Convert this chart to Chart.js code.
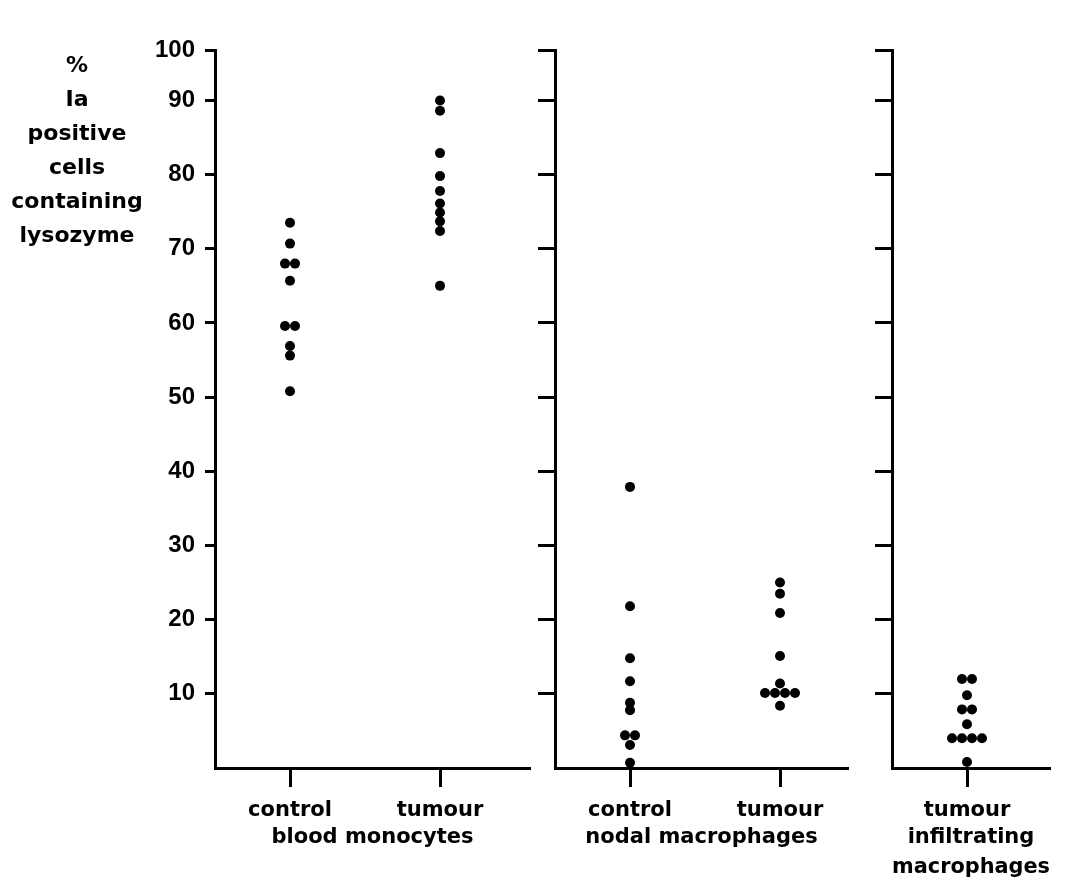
<!DOCTYPE html>
<html>
<head>
<meta charset="utf-8">
<title>Ia positive cells containing lysozyme</title>
<script src="https://cdn.jsdelivr.net/npm/chart.js@4/dist/chart.umd.min.js"></script>
<style>
  html, body { margin: 0; padding: 0; background: #fff; }
  #wrap { position: relative; width: 1075px; height: 887px; overflow: hidden; }
  .panel { position: absolute; top: 0; height: 887px; }
</style>
</head>
<body>
<div id="wrap">
  <div class="panel" style="left:0; width:545px;"><canvas id="chart-blood"></canvas></div>
  <div class="panel" style="left:530px; width:330px;"><canvas id="chart-nodal"></canvas></div>
  <div class="panel" style="left:865px; width:210px;"><canvas id="chart-infiltrating"></canvas></div>
</div>
<script>
// % of Ia positive cells containing lysozyme, one value per animal
const bloodControl = [73.5, 70.7, 68, 68, 65.7, 59.6, 59.6, 56.9, 55.6, 50.8];
const bloodTumour = [90, 88.6, 82.9, 79.8, 77.8, 76.1, 74.9, 73.7, 72.4, 65];
const nodalControl = [37.9, 21.8, 14.8, 11.7, 8.8, 7.8, 4.4, 4.4, 3.1, 0.7];
const nodalTumour = [25, 23.5, 20.9, 15.1, 11.4, 10.1, 10.1, 10.1, 10.1, 8.4];
const infiltratingTumour = [12, 12, 9.8, 7.9, 7.9, 5.9, 4, 4, 4, 4, 0.8];

const bloodCategories = ['control', 'tumour'];
const nodalCategories = ['control', 'tumour'];
const infiltratingCategories = ['tumour'];

const bloodTitle = ['blood monocytes'];
const nodalTitle = ['nodal macrophages'];
const infiltratingTitle = ['infiltrating', 'macrophages'];

const yTickValues = [10, 20, 30, 40, 50, 60, 70, 80, 90];
const yTopLabel = '100';
// the axis is broken just under 100: its top end carries the "100" label
const yTop = 96.8;
const yTitleLines = ['%', 'Ia', 'positive', 'cells', 'containing', 'lysozyme'];

const FONT = 'DejaVu Sans';
const DIGITS = 'Liberation Sans';
const PX_PER_UNIT = 150;   // horizontal px per category step
const DOT_STEP = 10;       // px between dots sharing a value

// spread equal values side by side around the category position
function spread(values, pos) {
  const counts = {};
  values.forEach(v => { counts[v] = (counts[v] || 0) + 1; });
  const seen = {};
  return values.map(v => {
    const k = seen[v] || 0;
    seen[v] = k + 1;
    const off = (k - (counts[v] - 1) / 2) * DOT_STEP / PX_PER_UNIT;
    return { x: pos + off, y: v };
  });
}

const yTitlePlugin = {
  id: 'yTitleStack',
  afterDraw(chart) {
    const ctx = chart.ctx;
    ctx.save();
    ctx.fillStyle = '#000';
    ctx.font = 'bold 22px "' + FONT + '"';
    ctx.textAlign = 'center';
    ctx.textBaseline = 'alphabetic';
    yTitleLines.forEach((line, i) => ctx.fillText(line, 77, 72 + i * 34));
    ctx.restore();
  }
};

function makePanel(p) {
  const points = [];
  p.series.forEach((vals, i) => points.push(...spread(vals, i + 1)));
  const titleLines = p.title.length;

  return new Chart(document.getElementById(p.id), {
    type: 'scatter',
    data: {
      datasets: [{
        data: points,
        backgroundColor: '#000',
        borderWidth: 0,
        pointRadius: 5,
        pointHoverRadius: 5,
        clip: false,
      }],
    },
    options: {
      responsive: true,
      maintainAspectRatio: false,
      animation: false,
      events: [],
      layout: { padding: { top: 50, right: p.padRight, bottom: 0, left: 0 } },
      plugins: { legend: { display: false }, tooltip: { enabled: false } },
      scales: {
        x: {
          type: 'linear',
          bounds: 'data',
          min: 0.5,
          max: p.xMax,
          afterBuildTicks: s => { s.ticks = p.categories.map((_, i) => ({ value: i + 1 })); },
          afterFit: s => { s.height = 119; },
          ticks: {
            callback: (v, i) => p.categories[i],
            color: '#000',
            font: { family: FONT, size: 21, weight: 'bold', lineHeight: 1.2 },
            padding: 11,
            maxRotation: 0,
            autoSkip: false,
          },
          grid: {
            drawOnChartArea: false,
            drawTicks: true,
            tickLength: 19,
            tickWidth: 3,
            tickColor: '#000',
          },
          border: { display: true, color: '#000', width: 3 },
          title: {
            display: true,
            text: p.title,
            color: '#000',
            font: { family: FONT, size: 21, weight: 'bold', lineHeight: 1.4 },
            padding: { top: 0, bottom: 887 - 838 - 14.7 - 29.4 * (titleLines - 1) },
          },
        },
        y: {
          type: 'linear',
          bounds: 'data',
          min: 0,
          max: yTop,
          afterBuildTicks: s => {
            s.ticks = yTickValues.map(v => ({ value: v })).concat([{ value: yTop }]);
          },
          afterFit: s => { s.width = p.yWidth; },
          ticks: {
            display: p.showYLabels,
            callback: v => (v === yTop ? yTopLabel : String(v)),
            color: '#000',
            font: { family: DIGITS, size: 24, weight: 'bold' },
            padding: 10,
          },
          grid: {
            drawOnChartArea: false,
            drawTicks: true,
            tickLength: p.yTickLength,
            tickWidth: 3,
            tickColor: '#000',
          },
          border: { display: true, color: '#000', width: 3 },
        },
      },
    },
    plugins: p.showYLabels ? [yTitlePlugin] : [],
  });
}

makePanel({
  id: 'chart-blood',
  series: [bloodControl, bloodTumour],
  categories: bloodCategories,
  title: bloodTitle,
  yWidth: 215,
  xMax: 0.5 + 315 / PX_PER_UNIT,
  padRight: 15,
  yTickLength: 10,
  showYLabels: true,
});

makePanel({
  id: 'chart-nodal',
  series: [nodalControl, nodalTumour],
  categories: nodalCategories,
  title: nodalTitle,
  yWidth: 25,
  xMax: 0.5 + 293 / PX_PER_UNIT,
  padRight: 12,
  yTickLength: 17,
  showYLabels: false,
});

makePanel({
  id: 'chart-infiltrating',
  series: [infiltratingTumour],
  categories: infiltratingCategories,
  title: infiltratingTitle,
  yWidth: 27,
  xMax: 0.5 + 158 / PX_PER_UNIT,
  padRight: 25,
  yTickLength: 17,
  showYLabels: false,
});
</script>
</body>
</html>
